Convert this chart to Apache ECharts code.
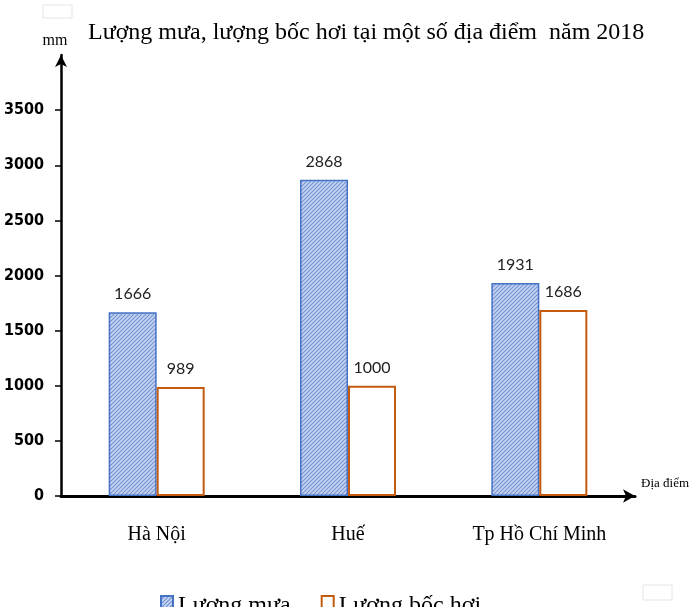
<!DOCTYPE html>
<html>
<head>
    <meta http-equiv="Content-Type" content="text/html; charset=utf-8"/>
    <title>Lượng mưa, lượng bốc hơi</title>
    <style type="text/css">
        body, #chart {
            border: 0px;
            margin: 0px;
            padding: 0px;
            width: 693px;
            height: 607px;
            background: #ffffff;
        }
    </style>
    <script type="text/javascript" src="https://cdn.jsdelivr.net/npm/echarts@6/dist/echarts.min.js"></script>
    <script type="text/javascript">
        var places = ['Hà Nội', 'Huế', 'Tp Hồ Chí Minh'];
        var rain = [1666, 2868, 1931];
        var evap = [989, 1000, 1686];
        var yTicks = [0, 500, 1000, 1500, 2000, 2500, 3000, 3500];

        // hatched fill for the rain bars
        function hatch() {
            var c = document.createElement('canvas');
            c.width = 4;
            c.height = 4;
            var ctx = c.getContext('2d');
            ctx.fillStyle = '#c8d5f0';
            ctx.fillRect(0, 0, 4, 4);
            ctx.strokeStyle = '#7393d4';
            ctx.lineWidth = 1.2;
            ctx.beginPath();
            ctx.moveTo(0, 4); ctx.lineTo(4, 0);
            ctx.moveTo(-1, 1); ctx.lineTo(1, -1);
            ctx.moveTo(3, 5); ctx.lineTo(5, 3);
            ctx.stroke();
            return c;
        }

        function init() {
            var myChart = echarts.init(document.getElementById('chart'));
            var serif = 'Liberation Serif';
            var narrow = "'Liberation Sans Narrow', 'DejaVu Sans Condensed', 'DejaVu Sans', sans-serif";
            var option = {
                animation: false,
                title: {
                    text: 'Lượng mưa, lượng bốc hơi tại một số địa điểm  năm 2018',
                    left: 83,
                    top: 16,
                    textStyle: {fontFamily: serif, fontSize: 24, fontWeight: 'normal', color: '#000'}
                },
                legend: {
                    left: 155,
                    top: 589,
                    icon: 'rect',
                    itemWidth: 12,
                    itemHeight: 20,
                    itemGap: 30,
                    textStyle: {fontFamily: serif, fontSize: 24, color: '#000'},
                    data: ['Lượng mưa', 'Lượng bốc hơi']
                },
                grid: {left: 61, right: 58, top: 55, bottom: 111, outerBoundsMode: 'none'},
                xAxis: {
                    type: 'category',
                    data: places,
                    name: 'Địa điểm',
                    nameGap: 6,
                    nameTextStyle: {fontFamily: serif, fontSize: 13, color: '#000', verticalAlign: 'bottom', padding: [0, 0, 6, 0]},
                    axisLine: {lineStyle: {color: '#000', width: 3}, symbol: ['none', 'arrow'], symbolSize: [10, 12]},
                    axisTick: {show: false},
                    axisLabel: {interval: 0, fontFamily: serif, fontSize: 20, color: '#000', margin: 29}
                },
                yAxis: {
                    type: 'value',
                    min: 0,
                    max: 4000,
                    interval: 500,
                    name: 'mm',
                    nameGap: 6,
                    nameTextStyle: {fontFamily: serif, fontSize: 16, color: '#000', padding: [0, 12, 0, 0]},
                    axisLine: {show: true, lineStyle: {color: '#000', width: 2.5}, symbol: ['none', 'arrow'], symbolSize: [9, 12]},
                    axisTick: {show: true, length: 6, lineStyle: {color: '#000', width: 1.5}, customValues: yTicks},
                    axisLabel: {
                        fontFamily: narrow, fontWeight: 'bold', fontSize: 16, color: '#000', margin: 17,
                        customValues: yTicks,
                        formatter: function (v) { return String(v); }
                    },
                    splitLine: {show: false}
                },
                series: [
                    {
                        name: 'Lượng mưa',
                        type: 'bar',
                        data: rain,
                        barWidth: 48,
                        barGap: '0%',
                        itemStyle: {color: {image: hatch(), repeat: 'repeat'}, borderColor: '#4472c4', borderWidth: 1.5},
                        label: {show: true, position: 'top', distance: 10, fontFamily: 'Lato', fontSize: 16, color: '#222'}
                    },
                    {
                        name: 'Lượng bốc hơi',
                        type: 'bar',
                        data: evap,
                        barWidth: 48,
                        itemStyle: {color: '#ffffff', borderColor: '#c55a11', borderWidth: 2},
                        label: {show: true, position: 'top', distance: 10, fontFamily: 'Lato', fontSize: 16, color: '#222'}
                    }
                ],
                graphic: [
                    {type: 'rect', shape: {x: 43, y: 5, width: 29, height: 13}, style: {fill: '#fff', stroke: '#e4e4e4', lineWidth: 1}},
                    {type: 'rect', shape: {x: 643, y: 585, width: 29, height: 15}, style: {fill: '#fff', stroke: '#e4e4e4', lineWidth: 1}}
                ]
            };
            myChart.setOption(option);
        }
    </script>
</head>
<body onLoad="init()">
<div id="chart"></div>
</body>
</html>
